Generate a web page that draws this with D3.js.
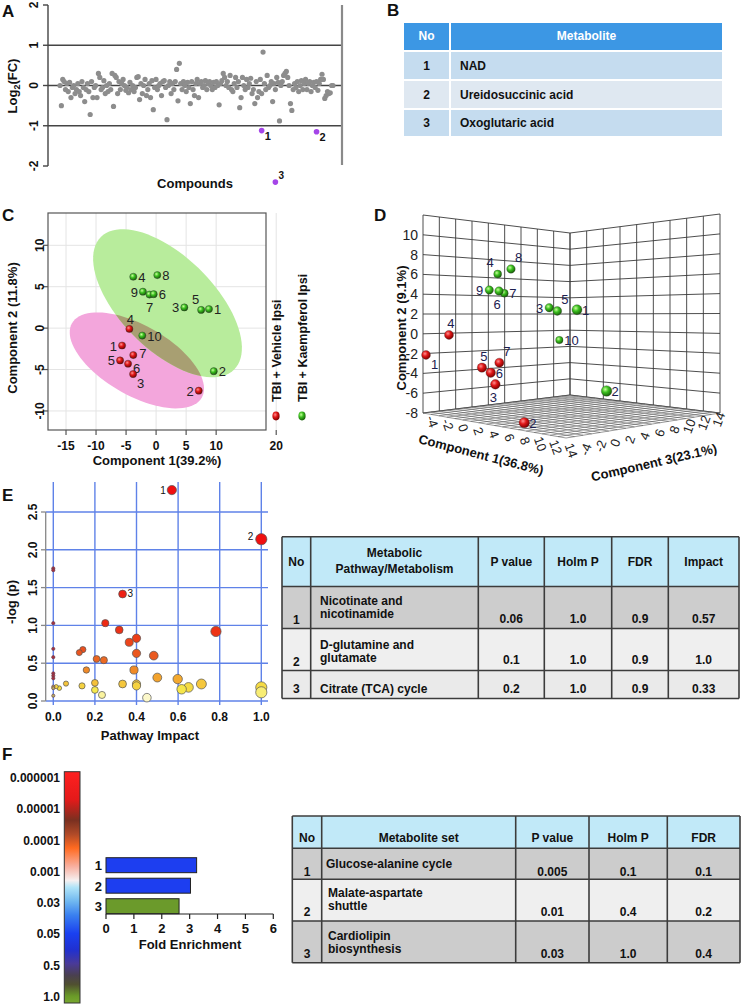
<!DOCTYPE html>
<html><head><meta charset="utf-8">
<script src="https://cdn.jsdelivr.net/npm/d3@7"></script>
<style>
body{margin:0;background:#fff;}
svg{display:block;font-family:"Liberation Sans",Arial,Helvetica,sans-serif;}
</style></head><body>
<svg id="fig" width="741" height="1004"></svg>
<script>
// ================= DATA =================
// Panel A: log2 fold change per compound (grey) and significant compounds (purple)
const fcValues = [
 0.0,-0.5,0.15,0.1,-0.1,0.05,-0.15,0.08,-0.3,-0.05,0.0,-0.2,-0.1,0.05,-0.15,-0.25,0.1,-0.05,-0.4,-0.1,
 0.05,-0.15,-0.72,0.1,-0.3,-0.05,0.0,-0.3,0.3,0.2,-0.1,-0.05,0.12,-0.2,0.0,-0.15,0.05,-0.1,0.3,-0.52,
 0.25,0.2,-0.2,0.1,-0.1,0.05,0.15,0.0,-0.12,-0.05,-0.18,0.08,-0.1,0.0,-0.15,-0.05,0.2,0.22,-0.35,0.05,
 -0.2,0.0,0.15,-0.25,-0.1,0.05,-0.3,0.12,-0.6,-0.05,0.15,-0.1,0.0,0.05,-0.25,0.1,0.12,-0.05,-0.85,0.0,
 0.1,-0.2,0.05,-0.1,0.1,0.4,-0.38,0.55,0.05,-0.1,0.1,0.0,-0.15,0.08,-0.05,-0.45,0.1,-0.1,-0.25,0.05,
 0.15,-0.3,0.05,0.1,-0.05,0.0,0.12,-0.1,0.05,0.1,0.0,-0.1,0.08,-0.05,0.1,0.0,-0.48,0.05,0.12,0.3,
 0.2,0.0,0.1,-0.05,0.25,-0.1,-0.15,0.05,0.2,-0.05,0.1,-0.55,-0.3,0.2,0.0,-0.1,0.15,-0.05,0.05,0.18,
 -0.2,-0.1,-0.45,0.1,-0.3,-0.15,0.15,-0.2,0.83,0.05,-0.1,0.25,-0.05,0.0,0.1,-0.4,0.05,-0.1,0.2,0.08,
 -0.88,0.0,0.1,0.25,0.3,0.35,0.2,0.0,-0.45,-0.62,-0.1,0.05,-0.05,0.1,-0.15,0.0,0.12,-0.1,0.05,0.15,
 -0.1,0.05,0.1,-0.15,0.0,0.08,-0.05,0.1,-0.12,0.05,0.15,0.28,0.15,-0.32,-0.25,-0.15,-0.2,-0.18,0.0,0.0
];
const sigIndex = [147, 187, 157];
const sigValues = [-1.12, -1.15, -2.4];
const sigLabels = ["1", "2", "3"];
const aTicks = [-2, -1, 0, 1, 2];
const aRefLines = [1, 0, -1];

// Panel B table
const tableBHeader = ["No", "Metabolite"];
const tableBRows = [["1", "NAD"], ["2", "Ureidosuccinic acid"], ["3", "Oxoglutaric acid"]];

// Panel C: PCA scores
const vehLabels = ["4", "1", "7", "5", "6", "3", "2"];
const vehC1 = [-4.45, -5.67, -3.8, -6.0, -4.67, -3.83, 7.1];
const vehC2 = [-0.1, -2.1, -3.25, -3.9, -4.3, -5.55, -7.55];
const vehLabelDir = ["t", "l", "r7", "l", "r6", "br", "l"];
const kaeLabels = ["4", "8", "9", "7", "6", "3", "5", "1", "10", "2"];
const kaeC1 = [-3.8, 0.2, -2.2, -1.1, -0.4, 4.7, 7.5, 8.8, -2.3, 9.6];
const kaeC2 = [6.2, 6.4, 4.4, 4.05, 4.1, 2.5, 2.2, 2.3, -0.9, -5.2];
const kaeLabelDir = ["r", "r", "l", "b", "r", "l", "tl", "r", "r", "r"];
const cXTicks = [-15, -10, -5, 0, 5, 10, 20];
const cYTicks = [-10, -5, 0, 5, 10];
// confidence ellipses: centre, semi-axis vectors (data units)
const ellipseVeh = {cx: -3.2, cy: -3.9, ux: 10.8, uy: -4.5, vx: 2.9, vy: 3.65};
const ellipseKae = {cx: 1.9, cy: 3.0, ux: 11.1, uy: -8.0, vx: 5.5, vy: 4.0};
const legendC = ["TBI + Vehicle Ipsi", "TBI + Kaempferol Ipsi"];

// Panel D: 3D PCA scores (comp1, comp2, comp3)
const dVehLabels = ["4", "1", "5", "7", "6", "3", "2"];
const dVeh1 = [-1.66, -3.62, 1.54, 1.85, 2.64, 3.22, 7.79];
const dVeh2 = [0.0, -2.11, -3.04, -2.64, -3.44, -4.5, -7.49];
const dVeh3 = [-3.1, -4.0, -2.2, -0.4, -2.2, -2.2, -3.1];
const dVehDir = ["t", "br", "t", "tr", "r", "b", "r"];
const dKaeLabels = ["4", "8", "9", "6", "7", "3", "5", "1", "10", "2"];
const dKae1 = [-2.04, 0.52, -1.25, -0.04, -2.13, 2.48, 4.39, 9.63, 0.07, 13.3];
const dKae2 = [6.3, 6.73, 4.56, 4.45, 4.27, 2.76, 2.46, 2.71, -0.84, -4.53];
const dKae3 = [3.2, 2.3, 1.4, 1.4, 4.1, 5.0, 4.1, 1.4, 8.6, 1.4];
const dKaeDir = ["tl", "tr", "l", "b", "r", "l", "tr", "r", "r", "r"];
const dTicks13 = [-4, -2, 0, 2, 4, 6, 8, 10, 12, 14];
const dTicks2 = [-8, -6, -4, -2, 0, 2, 4, 6, 8, 10, 12];
const dTickLabels2 = [-8, -6, -4, -2, 0, 2, 4, 6, 8, 10];

// Panel E: pathway analysis
const eImpact = [0.57, 1.0, 0.333, 0, 0, 0, 0, 0, 0, 0, 0, 0, 0, 0, 0.014, 0.029, 0.061, 0.138, 0.125, 0.142, 0.159,
  0.2, 0.2, 0.208, 0.243, 0.234, 0.25, 0.317, 0.333, 0.365, 0.388, 0.4, 0.4, 0.4, 0.4, 0.45, 0.483, 0.5, 0.598,
  0.617, 0.65, 0.712, 0.782, 1.0, 1.0];
const eLogP = [2.79, 2.14, 1.415, 1.755, 1.73, 1.03, 0.69, 0.58, 0.366, 0.335, 0.30, 0.07, 0.19, 0.17, 0.19, 0.17, 0.23,
  0.2, 0.64, 0.68, 0.41, 0.24, 0.146, 0.556, 0.54, 0.08, 1.03, 0.94, 0.225, 0.776, 0.41, 0.83, 0.63, 0.225, 0.2,
  0.044, 0.6, 0.31, 0.29, 0.155, 0.18, 0.225, 0.92, 0.18, 0.115];
const eLabels = ["1", "2", "3"];
const eXTicks = [0, 0.2, 0.4, 0.6, 0.8, 1.0];
const eYTicks = [0, 0.5, 1.0, 1.5, 2.0, 2.5];
const tableEHeader = [["No"], ["Metabolic", "Pathway/Metabolism"], ["P value"], ["Holm P"], ["FDR"], ["Impact"]];
const tableERows = [
  ["1", ["Nicotinate and", "nicotinamide"], "0.06", "1.0", "0.9", "0.57"],
  ["2", ["D-glutamine and", "glutamate"], "0.1", "1.0", "0.9", "1.0"],
  ["3", ["Citrate (TCA) cycle"], "0.2", "1.0", "0.9", "0.33"]
];

// Panel F: enrichment
const fSets = ["1", "2", "3"];
const fFold = [3.25, 3.03, 2.62];
const fColors = ["#1d3ef0", "#1d3ef0", "#6b9a2b"];
const fTicks = [0, 1, 2, 3, 4, 5, 6];
const pLegendLabels = ["0.000001", "0.00001", "0.0001", "0.001", "0.03", "0.05", "0.5", "1.0"];
const pLegendStops = [[0, "#ff2020"], [0.12, "#e41a1a"], [0.21, "#7a3020"], [0.27, "#b04a28"], [0.33, "#ff6a20"],
  [0.41, "#f8b0a0"], [0.47, "#f6f0f0"], [0.5, "#b0e4f8"], [0.56, "#70b8f0"], [0.62, "#3a80f0"], [0.7, "#1a40f0"],
  [0.77, "#2030d0"], [0.83, "#4a3a98"], [0.88, "#4a4050"], [0.92, "#505030"], [0.97, "#6a9a28"], [1, "#78a830"]];
const tableFHeader = ["No", "Metabolite set", "P value", "Holm P", "FDR"];
const tableFRows = [
  ["1", ["Glucose-alanine cycle"], "0.005", "0.1", "0.1"],
  ["2", ["Malate-aspartate", "shuttle"], "0.01", "0.4", "0.2"],
  ["3", ["Cardiolipin", "biosynthesis"], "0.03", "1.0", "0.4"]
];
const panelLetters = ["A", "B", "C", "D", "E", "F"];

// ================= DRAW =================
const svg = d3.select("#fig");
const defs = svg.append("defs");
function T(g, x, y, s, o = {}) {
  const t = g.append("text").attr("x", x).attr("y", y).text(s)
    .attr("font-size", o.size || 12).attr("font-weight", o.weight || "bold")
    .attr("fill", o.fill || "#111").attr("text-anchor", o.anchor || "start");
  if (o.rot !== undefined) t.attr("transform", `rotate(${o.rot},${x},${y})`);
  if (o.style) t.attr("font-style", o.style);
  return t;
}
function line(g, x1, y1, x2, y2, c, w) {
  return g.append("line").attr("x1", x1).attr("y1", y1).attr("x2", x2).attr("y2", y2)
    .attr("stroke", c).attr("stroke-width", w);
}
function sphere(id, c0, c1, c2) {
  const rg = defs.append("radialGradient").attr("id", id).attr("cx", "38%").attr("cy", "35%").attr("r", "65%");
  rg.append("stop").attr("offset", "0").attr("stop-color", c0);
  rg.append("stop").attr("offset", "0.45").attr("stop-color", c1);
  rg.append("stop").attr("offset", "1").attr("stop-color", c2);
}
sphere("sRed", "#ff9090", "#e01818", "#800000");
sphere("sGreen", "#c8ff9a", "#3cc020", "#186008");

const letterPos = [[2, 17], [387, 16], [2, 221], [374, 221], [2, 501], [2, 760]];
panelLetters.forEach((L, i) => T(svg, letterPos[i][0], letterPos[i][1], L, {size: 17}));

// ---------- Panel A ----------
{
  const g = svg.append("g");
  const x = d3.scaleLinear().domain([0, fcValues.length - 1]).range([60, 333]);
  const y = d3.scaleLinear().domain([-2, 2]).range([166, 5]);
  aRefLines.forEach(v => line(g, 48, y(v), 342, y(v), "#444", 1.6));
  line(g, 48, y(2), 48, y(-2), "#444", 1.4);
  line(g, 342, y(2), 342, y(-2) - 1, "#8a8a8a", 2.2);
  aTicks.forEach(v => {
    line(g, 43, y(v), 48, y(v), "#444", 1.4);
    T(g, 38, y(v), String(v), {size: 12, anchor: "middle", rot: -90});
  });
  g.selectAll("circle.fc").data(fcValues).join("circle").attr("class", "fc")
    .attr("cx", (d, i) => x(i)).attr("cy", d => y(d)).attr("r", 2.6).attr("fill", "#8d8d8d");
  sigValues.forEach((v, i) => {
    g.append("circle").attr("cx", x(sigIndex[i])).attr("cy", y(v)).attr("r", 2.8).attr("fill", "#a545e8");
  });
  T(g, x(sigIndex[0]) + 3, y(sigValues[0]) + 9, sigLabels[0], {size: 11});
  T(g, x(sigIndex[1]) + 3, y(sigValues[1]) + 9, sigLabels[1], {size: 11});
  T(g, x(sigIndex[2]) + 3, y(sigValues[2]) - 3, sigLabels[2], {size: 10});
  const yt = g.append("text").attr("transform", "translate(17,86) rotate(-90)").attr("text-anchor", "middle")
    .attr("font-size", 13).attr("font-weight", "bold").attr("fill", "#111");
  yt.append("tspan").text("Log");
  yt.append("tspan").text("2").attr("font-size", 9).attr("dy", 3);
  yt.append("tspan").text("(FC)").attr("dy", -3);
  T(g, 195, 188, "Compounds", {size: 13, anchor: "middle"});
}

// ---------- Panel B ----------
{
  const g = svg.append("g");
  const cols = [403, 450, 723];
  const rowsY = [22, 51, 80, 109, 137];
  const fills = ["#3c97e4", "#c5dcef", "#dfe8f1", "#c5dcef"];
  for (let r = 0; r < 4; r++) {
    for (let c = 0; c < 2; c++) {
      g.append("rect").attr("x", cols[c]).attr("y", rowsY[r]).attr("width", cols[c + 1] - cols[c])
        .attr("height", rowsY[r + 1] - rowsY[r]).attr("fill", fills[r]).attr("stroke", "#fff").attr("stroke-width", 2);
    }
  }
  T(g, (cols[0] + cols[1]) / 2, 40, tableBHeader[0], {size: 12, anchor: "middle", fill: "#fff"});
  T(g, (cols[1] + cols[2]) / 2, 40, tableBHeader[1], {size: 12, anchor: "middle", fill: "#fff"});
  tableBRows.forEach((row, i) => {
    const yy = (rowsY[i + 1] + rowsY[i + 2]) / 2 + 4;
    T(g, (cols[0] + cols[1]) / 2, yy, row[0], {size: 12, anchor: "middle"});
    T(g, 460, yy, row[1], {size: 12});
  });
}

// ---------- Panel C ----------
{
  const g = svg.append("g");
  const x = d3.scaleLinear().domain([-18, 18.3]).range([48, 266]);
  const y = d3.scaleLinear().domain([-12.3, 13.9]).range([430, 213]);
  cXTicks.forEach(v => line(g, x(v), 213, x(v), 430, "#e4e4e4", 1));
  cYTicks.forEach(v => line(g, 48, y(v), 266, y(v), "#e4e4e4", 1));
  function ell(e) {
    const pts = d3.range(0, 361, 4).map(a => {
      const t = a * Math.PI / 180;
      return [x(e.cx + e.ux * Math.cos(t) + e.vx * Math.sin(t)), y(e.cy + e.uy * Math.cos(t) + e.vy * Math.sin(t))];
    });
    return d3.line()(pts) + "Z";
  }
  defs.append("clipPath").attr("id", "clipKae").append("path").attr("d", ell(ellipseKae));
  g.append("path").attr("d", ell(ellipseVeh)).attr("fill", "#f3a6dc");
  g.append("path").attr("d", ell(ellipseKae)).attr("fill", "#b8ec9c");
  g.append("path").attr("d", ell(ellipseVeh)).attr("fill", "#a89f72").attr("clip-path", "url(#clipKae)");
  g.append("rect").attr("x", 48).attr("y", 213).attr("width", 218).attr("height", 217)
    .attr("fill", "none").attr("stroke", "#555").attr("stroke-width", 1.2);
  cXTicks.forEach(v => {
    line(g, x(v), 430, x(v), 435, "#555", 1.2);
    T(g, x(v), 450, String(v), {size: 12, anchor: "middle"});
  });
  cYTicks.forEach(v => {
    line(g, 43, y(v), 48, y(v), "#555", 1.2);
    T(g, 44, y(v), String(v), {size: 12, anchor: "middle", rot: -90});
  });
  T(g, 157, 465, "Component 1(39.2%)", {size: 13, anchor: "middle"});
  T(g, 17, 328, "Component 2 (11.8%)", {size: 13, anchor: "middle", rot: -90});
  const off = {r: [5, 5, "start"], l: [-5, 5, "end"], t: [1, -5, "middle"], b: [0, 17, "middle"],
    br: [4, 14, "start"], tl: [-2, -6, "end"], tr: [2, -6, "start"], r7: [6, 3, "start"], r6: [5, 9, "start"]};
  function pts(xs, ys, labs, dirs, fill) {
    xs.forEach((v, i) => {
      const px = x(v), py = y(ys[i]);
      g.append("circle").attr("cx", px).attr("cy", py).attr("r", 3.6).attr("fill", fill)
        .attr("stroke", "#333").attr("stroke-width", 0.4);
      const o = off[dirs[i]];
      T(g, px + o[0], py + o[1], labs[i], {size: 13, weight: "normal", anchor: o[2], fill: "#222"});
    });
  }
  pts(vehC1, vehC2, vehLabels, vehLabelDir, "url(#sRed)");
  pts(kaeC1, kaeC2, kaeLabels, kaeLabelDir, "url(#sGreen)");
  T(g, 281, 402, legendC[0], {size: 12.5, rot: -90});
  T(g, 307, 402, legendC[1], {size: 12.5, rot: -90});
  g.append("ellipse").attr("cx", 276).attr("cy", 416).attr("rx", 3.6).attr("ry", 4.4).attr("fill", "url(#sRed)");
  g.append("ellipse").attr("cx", 302).attr("cy", 416).attr("rx", 3.6).attr("ry", 4.4).attr("fill", "url(#sGreen)");
}

// ---------- Panel D ----------
{
  const g = svg.append("g");
  const L = [423, 413], F = [566, 438], B = [570, 395], R = [720, 413];
  const hL = 198, hF = 235, hB = 162, hR = 199;
  const s1 = d3.scaleLinear().domain([-4, 14]).range([0, 1]);
  const s3 = d3.scaleLinear().domain([-4, 14]).range([0, 1]);
  const s2 = d3.scaleLinear().domain([-8, 12]).range([0, 1]);
  function P(c1, c2, c3) {
    const a = s1(c1), b = s3(c3), c = s2(c2);
    const w = [(1 - a) * (1 - b), a * (1 - b), (1 - a) * b, a * b];
    const fx = L[0] * w[0] + F[0] * w[1] + B[0] * w[2] + R[0] * w[3];
    const fy = L[1] * w[0] + F[1] * w[1] + B[1] * w[2] + R[1] * w[3];
    const h = hL * w[0] + hF * w[1] + hB * w[2] + hR * w[3];
    return [fx, fy - c * h];
  }
  const gs = "#3a3a3a", gw = 0.9;
  function seg(p, q) { line(g, p[0], p[1], q[0], q[1], gs, gw); }
  dTicks13.forEach(v => seg(P(-4, -8, v), P(-4, 12, v)));
  dTicks2.forEach(v => seg(P(-4, v, -4), P(-4, v, 14)));
  dTicks13.forEach(v => seg(P(v, -8, 14), P(v, 12, 14)));
  dTicks2.forEach(v => seg(P(-4, v, 14), P(14, v, 14)));
  d3.range(-4, 14.01, 1).forEach(v => {
    const p = P(v, -8, -4), q = P(v, -8, 14);
    line(g, p[0], p[1], q[0], q[1], "#555", 0.6);
    const p2 = P(-4, -8, v), q2 = P(14, -8, v);
    line(g, p2[0], p2[1], q2[0], q2[1], "#555", 0.6);
  });
  dTickLabels2.forEach(v => {
    const p = P(-4, v, -4);
    T(g, p[0] - 5, p[1] + 5, String(v), {size: 14, weight: "normal", anchor: "end", fill: "#222"});
  });
  dTicks13.forEach(v => {
    const a = s1(v);
    const p = P(v, -8, -4);
    T(g, p[0] + 5 - 4 * a, p[1] + 10 + 4 * a, String(v), {size: 13, weight: "normal", anchor: "middle", fill: "#222", rot: 70});
    const b = s3(v);
    const q = P(14, -8, v);
    T(g, q[0] + 24 - 21 * b, q[1] + 13 - 5 * b, String(v), {size: 13, weight: "normal", anchor: "middle", fill: "#222", rot: -70});
  });
  T(g, 480, 459, "Component 1(36.8%)", {size: 13, anchor: "middle", rot: 14.5});
  T(g, 655, 467, "Component 3(23.1%)", {size: 13, anchor: "middle", rot: -13});
  T(g, 406, 328, "Component 2 (9.1%)", {size: 13, anchor: "middle", rot: -90});
  const off = {r: [5, 5, "start"], l: [-6, 5, "end"], t: [2, -7, "middle"], b: [-2, 18, "middle"],
    br: [5, 14, "start"], tl: [-4, -7, "end"], tr: [4, -7, "start"]};
  function pts(a1, a2, a3, labs, dirs, fill, labFill) {
    const idx = d3.range(a1.length).sort((i, j) => (s1(a1[i]) - s3(a3[i])) - (s1(a1[j]) - s3(a3[j])));
    idx.forEach(i => {
      const p = P(a1[i], a2[i], a3[i]);
      const depth = (s1(a1[i]) + 1 - s3(a3[i])) / 2;
      const r = 3.0 + 2.8 * depth;
      g.append("circle").attr("cx", p[0]).attr("cy", p[1]).attr("r", r).attr("fill", fill)
        .attr("stroke", "#333").attr("stroke-width", 0.3);
      const o = off[dirs[i]];
      T(g, p[0] + o[0], p[1] + o[1], labs[i], {size: 13, weight: "normal", anchor: o[2], fill: labFill});
    });
  }
  pts(dVeh1, dVeh2, dVeh3, dVehLabels, dVehDir, "url(#sRed)", "#1c2050");
  pts(dKae1, dKae2, dKae3, dKaeLabels, dKaeDir, "url(#sGreen)", "#1c2050");
}

// ---------- Panel E ----------
{
  const g = svg.append("g");
  const x = d3.scaleLinear().domain([0, 1]).range([53.3, 261.3]);
  const y = d3.scaleLinear().domain([0, 2.5]).range([701, 512]);
  const blue = "#5f82e8";
  eYTicks.forEach(v => line(g, 45.7, y(v), 268, y(v), blue, 1.4));
  eXTicks.forEach(v => line(g, x(v), 482, x(v), 705, blue, 1.4));
  line(g, 45.7, y(2.5), 45.7, y(0), "#888", 1.3);
  eYTicks.forEach(v => {
    line(g, 41, y(v), 45.7, y(v), "#888", 1.3);
    T(g, 37, y(v), v.toFixed(1), {size: 12, anchor: "middle", rot: -90});
  });
  eXTicks.forEach(v => T(g, x(v), 721, v.toFixed(1), {size: 12, anchor: "middle"}));
  T(g, 150, 740, "Pathway Impact", {size: 13, anchor: "middle"});
  T(g, 16, 602, "-log (p)", {size: 13, anchor: "middle", rot: -90});
  const col = d3.scaleLinear().domain([0, 0.15, 0.3, 0.6, 1.0, 2.0])
    .range(["#ffffff", "#f6e84a", "#f3a52d", "#ea5a20", "#ee2a14", "#f01010"]).clamp(true);
  const rad = d3.scaleSqrt().domain([0, 1]).range([1.6, 5.6]);
  const idx = d3.range(eImpact.length).sort((i, j) => eImpact[j] - eImpact[i]);
  idx.forEach(i => {
    const small = eImpact[i] === 0;
    const fill = small ? (eLogP[i] > 0.25 ? "#a83040" : "#b8b060") : col(eLogP[i]);
    g.append("circle").attr("cx", x(eImpact[i])).attr("cy", y(eLogP[i])).attr("r", rad(eImpact[i]))
      .attr("fill", fill).attr("stroke", small ? "#6a4050" : "#555").attr("stroke-width", 0.7);
  });
  T(g, x(eImpact[0]) - 6, y(eLogP[0]) + 4, eLabels[0], {size: 10, weight: "normal", anchor: "end"});
  T(g, x(eImpact[1]) - 8, y(eLogP[1]) + 1, eLabels[1], {size: 10, weight: "normal", anchor: "end"});
  T(g, x(eImpact[2]) + 5, y(eLogP[2]) + 3, eLabels[2], {size: 10, weight: "normal"});
}

// ---------- Tables E and F ----------
function drawTable(g, cols, rows, fills, header, headerY, body, bodyLayout) {
  for (let r = 0; r < rows.length - 1; r++) {
    g.append("rect").attr("x", cols[0]).attr("y", rows[r]).attr("width", cols[cols.length - 1] - cols[0])
      .attr("height", rows[r + 1] - rows[r]).attr("fill", fills[r]);
  }
  rows.forEach(v => line(g, cols[0], v, cols[cols.length - 1], v, "#3c3c3c", 1.6));
  cols.forEach(v => line(g, v, rows[0], v, rows[rows.length - 1], "#3c3c3c", 1.6));
  header.forEach((h, c) => {
    const cx = (cols[c] + cols[c + 1]) / 2;
    const lines = Array.isArray(h) ? h : [h];
    lines.forEach((s, k) => T(g, cx, headerY[lines.length - 1] + k * 16, s, {size: 12, anchor: "middle"}));
  });
  body.forEach((row, r) => {
    const lay = bodyLayout[r];
    row.forEach((cell, c) => {
      if (Array.isArray(cell)) {
        cell.forEach((s, k) => T(g, lay.textX, lay.textY[cell.length - 1] + k * 13, s, {size: 12}));
      } else {
        T(g, (cols[c] + cols[c + 1]) / 2, c === 0 ? lay.noY : lay.valY, cell, {size: 12, anchor: "middle"});
      }
    });
  });
}
drawTable(svg.append("g"), [282, 310.7, 478.3, 544.3, 611.7, 668.3, 739], [536.7, 586.5, 628.5, 670.5, 698.5],
  ["#c1e9f8", "#cdcdcd", "#efefef", "#eaeaea"], tableEHeader, [566, 557],
  tableERows, [
    {textX: 320, textY: [0, 605], noY: 624, valY: 623},
    {textX: 320, textY: [0, 649], noY: 666, valY: 664},
    {textX: 320, textY: [692.5, 0], noY: 692.5, valY: 693}
  ]);
drawTable(svg.append("g"), [292.3, 321.7, 515.7, 589, 667.3, 740], [816, 848.3, 879.3, 921, 962.7],
  ["#c1e9f8", "#cccccc", "#efefef", "#cccccc"], tableFHeader, [842],
  tableFRows, [
    {textX: 326, textY: [868, 0], noY: 876, valY: 876},
    {textX: 328, textY: [0, 897], noY: 916, valY: 916},
    {textX: 328, textY: [0, 940], noY: 958, valY: 958}
  ]);

// ---------- Panel F ----------
{
  const g = svg.append("g");
  const gr = defs.append("linearGradient").attr("id", "pgrad").attr("x1", 0).attr("y1", 0).attr("x2", 0).attr("y2", 1);
  pLegendStops.forEach(s => gr.append("stop").attr("offset", s[0]).attr("stop-color", s[1]));
  g.append("rect").attr("x", 64.3).attr("y", 771.7).attr("width", 15.7).attr("height", 231.3)
    .attr("fill", "url(#pgrad)").attr("stroke", "#333").attr("stroke-width", 1);
  const ly = d3.scalePoint().domain(pLegendLabels).range([778, 997]);
  pLegendLabels.forEach(s => T(g, 60, ly(s) + 4, s, {size: 12, anchor: "end"}));
  const x = d3.scaleLinear().domain([0, 6]).range([106, 273.3]);
  const y = d3.scaleBand().domain(fSets).range([857.7, 913.7]).paddingInner(0.27).paddingOuter(0);
  fSets.forEach((s, i) => {
    g.append("rect").attr("x", x(0)).attr("y", y(s)).attr("width", x(fFold[i]) - x(0)).attr("height", y.bandwidth())
      .attr("fill", fColors[i]).attr("stroke", "#222").attr("stroke-width", 1);
    T(g, x(0) - 4, y(s) + y.bandwidth() / 2 + 5, s, {size: 13, anchor: "end"});
  });
  line(g, x(0), 914, x(6), 914, "#222", 1.2);
  fTicks.forEach(v => {
    line(g, x(v), 914, x(v), 919, "#222", 1.2);
    T(g, x(v), 933, String(v), {size: 13, anchor: "middle"});
  });
  T(g, 190, 949, "Fold  Enrichment", {size: 13, anchor: "middle"});
}
</script>
</body></html>
